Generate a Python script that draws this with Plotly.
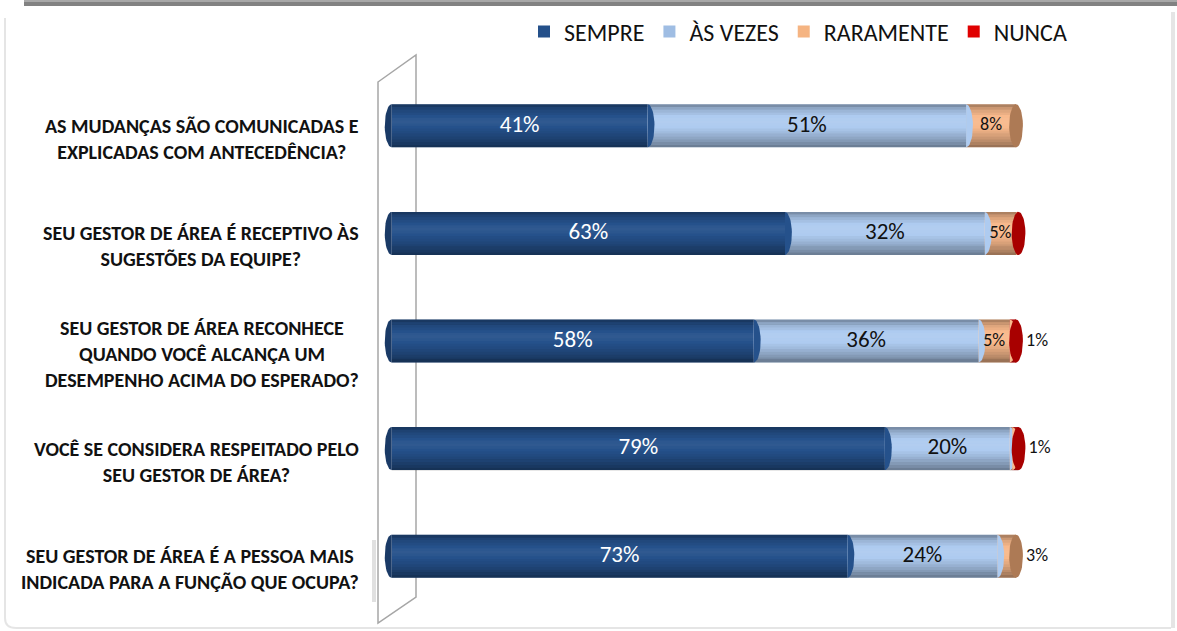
import numpy as np
import plotly.graph_objects as go

# ---------------- data ----------------
categories = [
    "AS MUDANÇAS SÃO COMUNICADAS E<br>EXPLICADAS COM ANTECEDÊNCIA?",
    "SEU GESTOR DE ÁREA É RECEPTIVO ÀS<br>SUGESTÕES DA EQUIPE?",
    "SEU GESTOR DE ÁREA RECONHECE<br>QUANDO VOCÊ ALCANÇA UM<br>DESEMPENHO ACIMA DO ESPERADO?",
    "VOCÊ SE CONSIDERA RESPEITADO PELO<br>SEU GESTOR DE ÁREA?",
    "SEU GESTOR DE ÁREA É A PESSOA MAIS<br>INDICADA PARA A FUNÇÃO QUE OCUPA?",
]
series_names = ["SEMPRE", "ÀS VEZES", "RARAMENTE", "NUNCA"]
sempre = [41, 63, 58, 79, 73]
as_vezes = [51, 32, 36, 20, 24]
raramente = [8, 5, 5, 0.4, 3]
nunca = [0, 0.4, 1, 1, 0]

# ---------------- styles ----------------
body_colors = ["#25518b", "#aecbf0", "#f8b98c", "#ee1111"]
cap_colors = ["#1a3a66", "#8aa6c9", "#ad7a55", "#a80000"]
legend_colors = ["#24508a", "#9fbde3", "#f5b482", "#e00000"]
text_colors = ["white", "#111111", "#111111", "#111111"]
text_sizes = [23, 23, 18, 18]
FONT = "Carlito, Calibri, Lato, sans-serif"

W, H = 1177, 631
ML, MR, MT, MB = 376, 111, 72, 21
PW, PH = W - ML - MR, H - MT - MB


def pxx(p):
    return (p - ML) / PW


def pyy(p):
    return (H - MB - p) / PH


BAR_W = 0.40
RX = 1.1  # cap half width in x units
RY = BAR_W / 2

series = [sempre, as_vezes, raramente, nunca]
n = len(categories)
ypos = list(range(n))
vals = np.array(series, dtype=float)  # shape (4, n)
bases = np.vstack([np.zeros(n), np.cumsum(vals, axis=0)[:-1]])
totals = vals.sum(axis=0)

fig = go.Figure()

# main bars
for i, name in enumerate(series_names):
    fig.add_trace(go.Bar(
        y=ypos, x=vals[i], base=bases[i], orientation="h", name=name,
        width=BAR_W, offset=-BAR_W / 2,
        marker=dict(color=body_colors[i], line=dict(width=0)),
        hoverinfo="skip", showlegend=False,
    ))

# cylinder shading (overlay alpha profile from top to bottom; negative = white)
shade_profile = [0.30, 0.18, 0.10, 0.05, 0.0, -0.04, -0.05, -0.03, 0.0, 0.04,
                 0.08, 0.13, 0.18, 0.24, 0.30, 0.38]
nb = len(shade_profile)
for k, a in enumerate(shade_profile):
    col = f"rgba(0,0,0,{a:.3f})" if a >= 0 else f"rgba(255,255,255,{-a:.3f})"
    fig.add_trace(go.Bar(
        y=ypos, x=totals, base=np.zeros(n), orientation="h",
        width=BAR_W / nb * 1.02, offset=-BAR_W / 2 + BAR_W * k / nb,
        marker=dict(color=col, line=dict(width=0)),
        hoverinfo="skip", showlegend=False,
    ))

# end caps (ellipses)
t_full = np.linspace(0, 2 * np.pi, 48)
t_right = np.linspace(-np.pi / 2, np.pi / 2, 24)
t_left = np.linspace(np.pi / 2, 3 * np.pi / 2, 24)


def ellipse(cx, cy, t):
    return list(cx + RX * np.cos(t)), list(cy + RY * np.sin(t))


def add_cap(cx, cy, t, color):
    ex, ey = ellipse(cx, cy, t)
    fig.add_trace(go.Scatter(
        x=ex, y=ey, mode="lines", fill="toself", fillcolor=color,
        line=dict(width=0, color=color), hoverinfo="skip", showlegend=False,
    ))


for r in range(n):
    add_cap(0, ypos[r], t_left, cap_colors[0])
    nz = [i for i in range(len(series)) if vals[i][r] > 0]
    for i in nz:
        end = bases[i][r] + vals[i][r]
        if i == nz[-1]:
            add_cap(end, ypos[r], t_full, cap_colors[i])
        else:
            add_cap(end, ypos[r], t_right, body_colors[i])

# legend entries
for i, name in enumerate(series_names):
    fig.add_trace(go.Bar(
        y=[None], x=[None], orientation="h", name=name,
        marker=dict(color=legend_colors[i], line=dict(width=0)),
        hoverinfo="skip", showlegend=True,
    ))

# value labels
for i in range(len(series)):
    xs, ys, txt, pos = [], [], [], []
    for r in range(n):
        v = vals[i][r]
        if round(v) < 1:
            continue
        ys.append(ypos[r])
        txt.append(f"{round(v)}%")
        if v >= 4:
            xs.append(bases[i][r] + v / 2)
            pos.append("middle center")
        else:
            xs.append(totals[r] + 1.6)
            pos.append("middle right")
    fig.add_trace(go.Scatter(
        x=xs, y=ys, mode="text", text=txt, textposition=pos,
        textfont=dict(family=FONT, size=text_sizes[i],
                      color=[text_colors[i] if p == "middle center" else "#111111" for p in pos]),
        hoverinfo="skip", showlegend=False, cliponaxis=False,
    ))

# category labels
annotations = []
for r, lab in enumerate(categories):
    annotations.append(dict(
        x=pxx(361), xref="paper", y=ypos[r], yref="y", yshift=-13,
        text=lab, showarrow=False, xanchor="right", yanchor="middle", align="center",
        font=dict(family=FONT, size=20, color="#111111", weight="bold"),
    ))

# decoration shapes: 3D wall and card frame
shapes = [
    dict(type="path", xref="paper", yref="paper", layer="below",
         path=f"M{pxx(378)},{pyy(82)} L{pxx(416)},{pyy(55)} L{pxx(416)},{pyy(597)} L{pxx(378)},{pyy(623)} Z",
         line=dict(color="#a6a6a6", width=1.5)),
    dict(type="line", xref="paper", yref="paper", layer="below",
         x0=pxx(374), x1=pxx(374), y0=pyy(540), y1=pyy(602),
         line=dict(color="rgba(0,0,0,0.12)", width=4)),
    # top gray strip
    dict(type="rect", xref="paper", yref="paper",
         x0=pxx(24), x1=pxx(1177), y0=pyy(0), y1=pyy(2),
         fillcolor="#a8a8a8", line=dict(width=0)),
    dict(type="rect", xref="paper", yref="paper",
         x0=pxx(24), x1=pxx(1177), y0=pyy(2), y1=pyy(6),
         fillcolor="#828282", line=dict(width=0)),
    # right shadow
    dict(type="rect", xref="paper", yref="paper",
         x0=pxx(1171), x1=pxx(1175), y0=pyy(12), y1=pyy(628),
         fillcolor="rgba(0,0,0,0.10)", line=dict(width=0)),
    # card outline left/bottom
    dict(type="path", xref="paper", yref="paper",
         path=(f"M{pxx(5)},{pyy(18)} L{pxx(5)},{pyy(618)} "
               f"Q{pxx(5)},{pyy(628)} {pxx(16)},{pyy(628)} L{pxx(1171)},{pyy(628)}"),
         line=dict(color="rgba(0,0,0,0.10)", width=2)),
]

fig.update_layout(
    width=W, height=H,
    margin=dict(l=ML, r=MR, t=MT, b=MB, autoexpand=False),
    paper_bgcolor="white", plot_bgcolor="rgba(0,0,0,0)",
    barmode="overlay",
    xaxis=dict(range=[-2.5, 108], visible=False, fixedrange=True),
    yaxis=dict(range=[n - 0.5, -0.5], visible=False, fixedrange=True),
    legend=dict(orientation="h", x=pxx(1072), xanchor="right", y=pyy(32), yanchor="middle",
                font=dict(family=FONT, size=24, color="#111111"),
                bgcolor="rgba(0,0,0,0)", traceorder="normal", itemwidth=30),
    annotations=annotations,
    shapes=shapes,
    showlegend=True,
)

fig.write_html("out.html", config={"displayModeBar": False},
               post_script="document.body.style.margin='0';document.body.style.overflow='hidden';")
